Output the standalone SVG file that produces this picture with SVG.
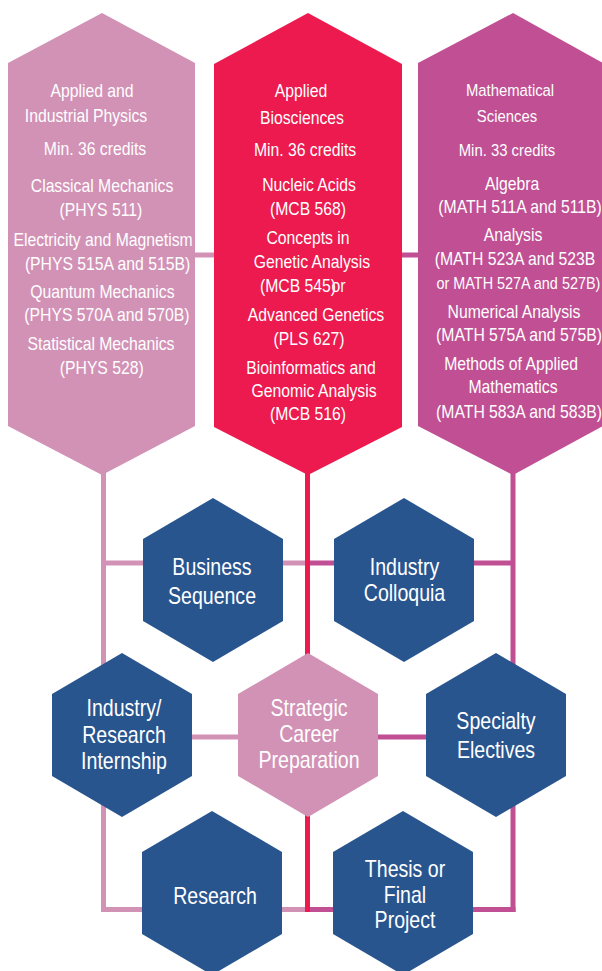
<svg xmlns="http://www.w3.org/2000/svg" width="602" height="971" viewBox="0 0 602 971">
<style>
  text { font-family: "Liberation Sans", Arial, sans-serif; fill: #ffffff; text-anchor: middle; }
  .c { font-size: 17.5px; }
  .h { font-size: 16.5px; }
  .b { font-size: 23px; }
  .st { text-anchor: start; }
  .pink { fill: #d292b6; }
  .red { fill: #ec1a4e; }
  .mag { fill: #c04f94; }
  .blue { fill: #29558f; }
  .lp { stroke: #d292b6; stroke-width: 5; fill: none; }
  .lr { stroke: #ec1a4e; stroke-width: 5; fill: none; }
  .lm { stroke: #c04f94; stroke-width: 5; fill: none; }
</style>
<g id="connectors">
  <line class="lp" x1="103.5" y1="450" x2="103.5" y2="912"/>
  <line class="lp" x1="101" y1="255" x2="307" y2="255"/>
  <line class="lm" x1="307" y1="255" x2="513" y2="255"/>
  <line class="lp" x1="103.5" y1="563" x2="307" y2="563"/>
  <line class="lm" x1="307" y1="563" x2="513" y2="563"/>
  <line class="lp" x1="122" y1="737" x2="307" y2="737"/>
  <line class="lm" x1="307" y1="737" x2="496" y2="737"/>
  <line class="lp" x1="101" y1="909.5" x2="307" y2="909.5"/>
  <line class="lm" x1="307" y1="909.5" x2="515.5" y2="909.5"/>
  <line class="lm" x1="513" y1="450" x2="513" y2="912"/>
  <line class="lr" x1="307.5" y1="450" x2="307.5" y2="912"/>
</g>
<g id="physics">
  <polygon class="pink" points="102,13 195,63 195,426 102,475 8,426 8,63"/>
  <g transform="translate(103 0) scale(0.9 1)" class="c">
    <text x="-12.2" y="97">Applied and</text>
    <text x="-18.9" y="122">Industrial Physics</text>
    <text x="-8.9" y="155">Min. 36 credits</text>
    <text x="-1.1" y="192">Classical Mechanics</text>
    <text x="-2.4" y="216">(PHYS 511)</text>
    <text x="0" y="246">Electricity and Magnetism</text>
    <text x="5" y="270">(PHYS 515A and 515B)</text>
    <text x="-0.6" y="298">Quantum Mechanics</text>
    <text x="4.4" y="321">(PHYS 570A and 570B)</text>
    <text x="-2.2" y="350">Statistical Mechanics</text>
    <text x="-1.4" y="374">(PHYS 528)</text>
  </g>
</g>
<g id="biosciences">
  <polygon class="red" points="308,13 402,64 402,427 308,475 214,427 214,64"/>
  <g transform="translate(308 0) scale(0.9 1)" class="c">
    <text x="-7.8" y="97">Applied</text>
    <text x="-6.7" y="124">Biosciences</text>
    <text x="-3.3" y="156">Min. 36 credits</text>
    <text x="1.1" y="191">Nucleic Acids</text>
    <text x="0" y="215">(MCB 568)</text>
    <text x="0" y="244">Concepts in</text>
    <text x="4.4" y="268">Genetic Analysis</text>
    <text class="st" x="-53.3" y="292">(MCB 545)<tspan dx="-5">or</tspan></text>
    <text x="8.9" y="321">Advanced Genetics</text>
    <text x="1.1" y="345">(PLS 627)</text>
    <text x="3.3" y="374">Bioinformatics and</text>
    <text x="6.7" y="397">Genomic Analysis</text>
    <text x="0" y="420">(MCB 516)</text>
  </g>
</g>
<g id="mathematics">
  <polygon class="mag" points="513,13 603,63 603,426 513,475 418,426 418,63"/>
  <g transform="translate(513 0) scale(0.9 1)" class="c">
    <text class="h" x="-3.3" y="96">Mathematical</text>
    <text class="h" x="-6.7" y="122">Sciences</text>
    <text class="h" x="-6.7" y="156">Min. 33 credits</text>
    <text x="-1.1" y="190">Algebra</text>
    <text x="7.8" y="213">(MATH 511A and 511B)</text>
    <text x="0" y="241">Analysis</text>
    <text x="2.2" y="265">(MATH 523A and 523B</text>
    <text class="st" x="-85" y="289" style="font-size:16px">or MATH 527A and 527B)</text>
    <text x="1.1" y="318">Numerical Analysis</text>
    <text x="6.7" y="341">(MATH 575A and 575B)</text>
    <text x="-2.2" y="370">Methods of Applied</text>
    <text x="0" y="393">Mathematics</text>
    <text x="6.7" y="418">(MATH 583A and 583B)</text>
  </g>
</g>
<g id="business-sequence">
  <polygon class="blue" points="213,498 283,539 283,621 213,662 143,621 143,539"/>
  <g transform="translate(212 0) scale(0.85 1)" class="b">
    <text x="0" y="575">Business</text>
    <text x="0" y="604">Sequence</text>
  </g>
</g>
<g id="industry-colloquia">
  <polygon class="blue" points="404,498 474,539 474,621 404,662 334,621 334,539"/>
  <g transform="translate(404.5 0) scale(0.85 1)" class="b">
    <text x="0" y="575">Industry</text>
    <text x="0" y="601">Colloquia</text>
  </g>
</g>
<g id="internship">
  <polygon class="blue" points="122,653 192,694 192,776 122,817 52,776 52,694"/>
  <g transform="translate(124 0) scale(0.85 1)" class="b">
    <text x="0" y="716">Industry/</text>
    <text x="0" y="743">Research</text>
    <text x="0" y="769">Internship</text>
  </g>
</g>
<g id="strategic-career-preparation">
  <polygon class="pink" points="308,653 378,694 378,776 308,817 238,776 238,694"/>
  <g transform="translate(309 0) scale(0.85 1)" class="b">
    <text x="0" y="716">Strategic</text>
    <text x="0" y="742">Career</text>
    <text x="0" y="768">Preparation</text>
  </g>
</g>
<g id="specialty-electives">
  <polygon class="blue" points="496,653 566,694 566,776 496,817 426,776 426,694"/>
  <g transform="translate(496 0) scale(0.85 1)" class="b">
    <text x="0" y="729">Specialty</text>
    <text x="0" y="758">Electives</text>
  </g>
</g>
<g id="research">
  <polygon class="blue" points="212,811 282,852 282,934 212,975 142,934 142,852"/>
  <g transform="translate(215 0) scale(0.85 1)" class="b">
    <text x="0" y="904">Research</text>
  </g>
</g>
<g id="thesis">
  <polygon class="blue" points="403,811 473,852 473,934 403,975 333,934 333,852"/>
  <g transform="translate(405 0) scale(0.85 1)" class="b">
    <text x="0" y="877">Thesis or</text>
    <text x="0" y="903">Final</text>
    <text x="0" y="928">Project</text>
  </g>
</g>
</svg>
